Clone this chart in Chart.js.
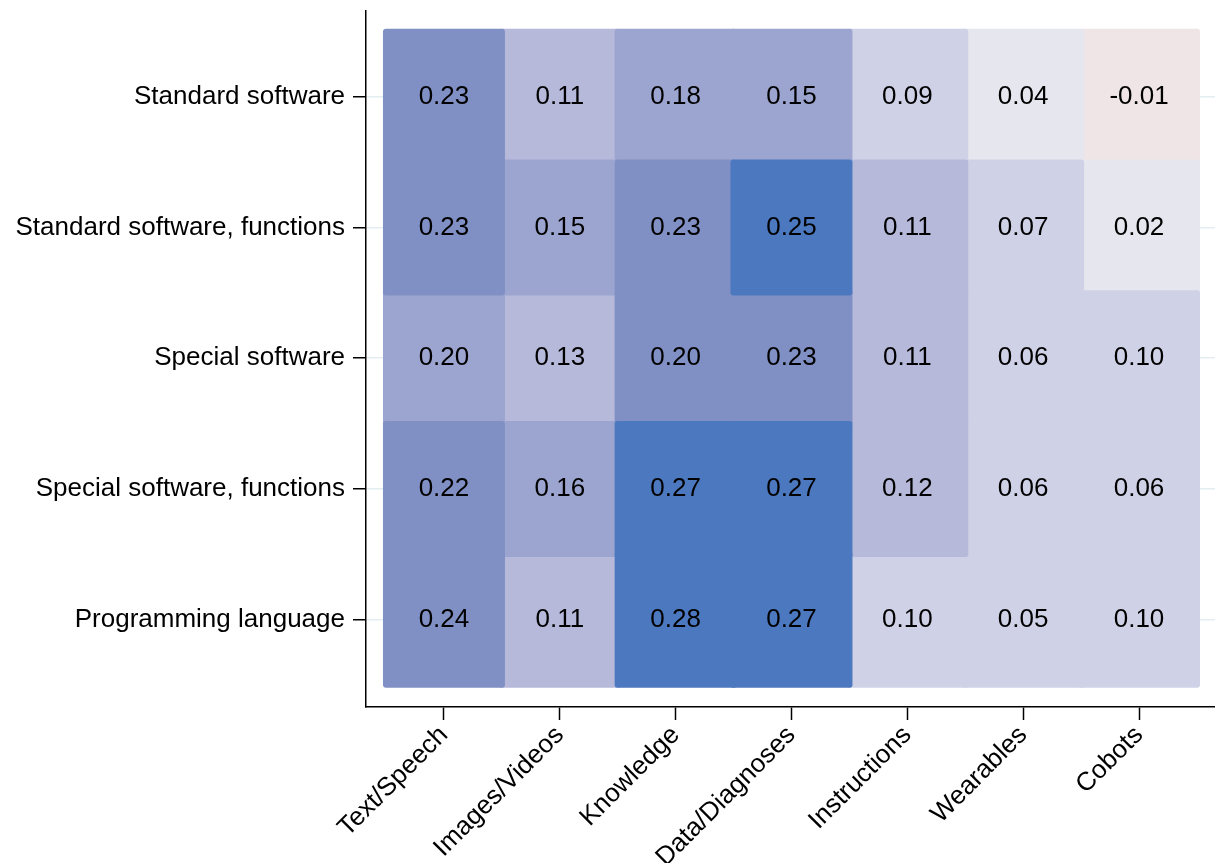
<!DOCTYPE html>
<html>
<head>
<meta charset="utf-8">
<script src="https://cdn.jsdelivr.net/npm/chart.js@4.4.1/dist/chart.umd.min.js"></script>
<style>
  html, body { margin: 0; padding: 0; background: #fff; }
  #wrap { width: 1215px; height: 863px; position: relative; }
</style>
</head>
<body>
<div id="wrap"><canvas id="mycanvas"></canvas></div>
<script>
// rows (top to bottom) and columns of the heatmap
var rowLabels = ['Standard software', 'Standard software, functions', 'Special software',
                 'Special software, functions', 'Programming language'];
var colLabels = ['Text/Speech', 'Images/Videos', 'Knowledge', 'Data/Diagnoses',
                 'Instructions', 'Wearables', 'Cobots'];

// one array per row
var standardSoftware      = [0.23, 0.11, 0.18, 0.15, 0.09, 0.04, -0.01];
var standardSoftwareFunc  = [0.23, 0.15, 0.23, 0.25, 0.11, 0.07, 0.02];
var specialSoftware       = [0.198, 0.13, 0.201, 0.23, 0.11, 0.06, 0.098];
var specialSoftwareFunc   = [0.22, 0.16, 0.27, 0.27, 0.12, 0.06, 0.06];
var programmingLanguage   = [0.24, 0.11, 0.28, 0.27, 0.098, 0.05, 0.098];
var values = [standardSoftware, standardSoftwareFunc, specialSoftware, specialSoftwareFunc, programmingLanguage];

// colour bins (lower bound of each bin)
var binBreaks = [-0.05, 0, 0.05, 0.10, 0.15, 0.20, 0.25];
var binColors = ['#EFE4E6', '#E6E7EE', '#CFD2E6', '#B6B9DA', '#9CA5CF', '#8190C4', '#4C78BF'];

var CELL_H = 0.52;

function binOf(v) {
  var k = 0;
  for (var i = 0; i < binBreaks.length; i++) {
    if (v >= binBreaks[i]) k = i;
  }
  return k;
}

var datasets = [];
binColors.forEach(function(col, k) {
  var pts = [];
  values.forEach(function(row, r) {
    row.forEach(function(v, c) {
      if (binOf(v) === k) pts.push({x: c + 1, y: [r + 1 - CELL_H, r + 1 + CELL_H]});
    });
  });
  datasets.push({
    data: pts,
    backgroundColor: col,
    borderWidth: 0,
    borderRadius: 3,
    borderSkipped: false,
    grouped: false,
    barPercentage: 1.053,
    categoryPercentage: 1,
    order: binColors.length - k
  });
});

var cellLabels = {
  id: 'cellLabels',
  afterDatasetsDraw: function(chart) {
    var ctx = chart.ctx, xs = chart.scales.x, ys = chart.scales.y;
    ctx.save();
    ctx.font = '26px Arial, "Liberation Sans", sans-serif';
    ctx.fillStyle = '#000';
    ctx.textAlign = 'center';
    ctx.textBaseline = 'middle';
    values.forEach(function(row, r) {
      row.forEach(function(v, c) {
        ctx.fillText(v.toFixed(2), xs.getPixelForValue(c + 1), ys.getPixelForValue(r + 1));
      });
    });
    ctx.restore();
  }
};

var tickFont = {family: 'Arial, "Liberation Sans", sans-serif', size: 26};

var ctx = document.getElementById('mycanvas');
var chart = new Chart(ctx, {
  type: 'bar',
  data: {datasets: datasets},
  options: {
    responsive: true,
    maintainAspectRatio: false,
    animation: false,
    layout: {padding: {top: 11, right: 0, left: 0, bottom: 0}},
    plugins: {legend: {display: false}, tooltip: {enabled: false}},
    scales: {
      x: {
        type: 'linear',
        offset: false,
        min: 0.327,
        max: 7.656,
        afterBuildTicks: function(scale) {
          scale.ticks = colLabels.map(function(_, i) { return {value: i + 1}; });
        },
        afterFit: function(scale) { scale.height = 156; scale.paddingLeft = 0; scale.paddingRight = 0; },
        border: {display: true, color: '#000', width: 1.5},
        grid: {offset: false, drawOnChartArea: false, tickLength: 13, tickColor: '#000', tickWidth: 1.5},
        ticks: {
          autoSkip: false,
          minRotation: 45,
          maxRotation: 45,
          padding: 0,
          color: '#000',
          font: tickFont,
          callback: function(v) { return colLabels[Math.round(v) - 1]; }
        }
      },
      y: {
        type: 'linear',
        reverse: true,
        min: 0.345,
        max: 5.668,
        afterBuildTicks: function(scale) {
          scale.ticks = rowLabels.map(function(_, i) { return {value: i + 1}; });
        },
        afterFit: function(scale) { scale.width = 366; scale.paddingTop = 0; scale.paddingBottom = 0; },
        border: {display: true, color: '#000', width: 1.5},
        grid: {color: '#E4EEF0', lineWidth: 1.5, tickLength: 13, tickColor: '#000', tickWidth: 1.5},
        ticks: {
          padding: 8,
          color: '#000',
          font: tickFont,
          callback: function(v) { return rowLabels[Math.round(v) - 1]; }
        }
      }
    }
  },
  plugins: [cellLabels]
});
</script>
</body>
</html>
